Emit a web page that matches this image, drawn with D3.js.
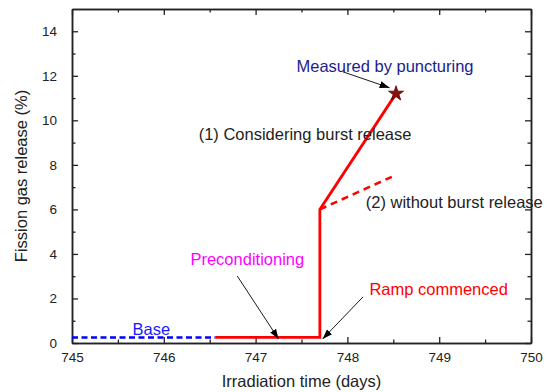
<!DOCTYPE html>
<html>
<head>
<meta charset="utf-8">
<script src="https://cdnjs.cloudflare.com/ajax/libs/d3/7.8.5/d3.min.js"></script>
<style>
  body { margin: 0; background: #fff; }
  svg { display: block; font-family: "Liberation Sans", Arial, sans-serif; }
</style>
</head>
<body>
<div id="svg_container"></div>
<script>
/* -----------------------
data
------------------------- */

var baseX = [745, 746.56],
    baseY = [0.25, 0.25];

var burstX = [746.56, 747.7, 747.7, 748.53],
    burstY = [0.25, 0.25, 6.0, 11.2];

var noBurstX = [747.7, 748.53],
    noBurstY = [6.0, 7.55];

var measuredX = [748.53],
    measuredY = [11.2];

var xTicks = [745, 746, 747, 748, 749, 750],
    yTicks = [0, 2, 4, 6, 8, 10, 12, 14];

// text labels, placed in data units
var labelText = ["Measured by puncturing", "(1) Considering burst release", "(2) without burst release",
                 "Preconditioning", "Ramp commenced", "Base"],
    labelX = [748.41, 746.38, 748.20, 746.29, 748.24, 745.66],
    labelY = [12.15, 9.12, 6.07, 3.51, 2.16, 0.36];

// arrows: from -> to
var arrowFromX = [747.95, 746.80, 748.17],
    arrowFromY = [12.18, 3.01, 2.07],
    arrowToX = [748.46, 747.25, 747.73],
    arrowToY = [11.46, 0.18, 0.18];

/* -----------------------
set plot
------------------------- */

var width = 548, height = 392;
var pLeft = 72, pRight = 531, pTop = 9, pBottom = 343;

var svg = d3.select("#svg_container")
    .append("svg")
    .attr("width", width)
    .attr("height", height);

var x = d3.scaleLinear().domain([745, 750]).range([pLeft, pRight]);
var y = d3.scaleLinear().domain([0, 15]).range([pBottom, pTop]);

var zip = function(a, b) { return a.map(function(v, i) { return [v, b[i]]; }); };

var line = d3.line()
    .x(function(d) { return x(d[0]); })
    .y(function(d) { return y(d[1]); });

/* -----------------------
axes
------------------------- */

var axisColor = "#222";
var minorX = d3.range(745.5, 750, 1),
    minorY = d3.range(1, 15, 2);

function styleAxis(g) {
    g.selectAll("path").attr("stroke", axisColor).attr("stroke-width", 1.5);
    g.selectAll("line").attr("stroke", axisColor).attr("stroke-width", 1.3);
    g.selectAll("text").attr("fill", "#222").attr("font-size", "13.5px")
        .attr("font-family", "'Liberation Sans', Arial, sans-serif");
}

// bottom
svg.append("g")
    .attr("transform", "translate(0," + pBottom + ")")
    .call(d3.axisBottom(x).tickValues(xTicks).tickFormat(d3.format("d"))
        .tickSizeInner(-6).tickSizeOuter(0).tickPadding(9.4))
    .call(styleAxis);
svg.append("g")
    .attr("transform", "translate(0," + pBottom + ")")
    .call(d3.axisBottom(x).tickValues(minorX).tickFormat("").tickSizeInner(-3.5).tickSizeOuter(0))
    .call(styleAxis);

// top
svg.append("g")
    .attr("transform", "translate(0," + pTop + ")")
    .call(d3.axisTop(x).tickValues(xTicks).tickFormat("").tickSizeInner(-6).tickSizeOuter(0))
    .call(styleAxis);
svg.append("g")
    .attr("transform", "translate(0," + pTop + ")")
    .call(d3.axisTop(x).tickValues(minorX).tickFormat("").tickSizeInner(-3.5).tickSizeOuter(0))
    .call(styleAxis);

// left
svg.append("g")
    .attr("transform", "translate(" + pLeft + ",0)")
    .call(d3.axisLeft(y).tickValues(yTicks).tickFormat(d3.format("d"))
        .tickSizeInner(-6).tickSizeOuter(0).tickPadding(15))
    .call(styleAxis);
svg.append("g")
    .attr("transform", "translate(" + pLeft + ",0)")
    .call(d3.axisLeft(y).tickValues(minorY).tickFormat("").tickSizeInner(-3.5).tickSizeOuter(0))
    .call(styleAxis);

// right
svg.append("g")
    .attr("transform", "translate(" + pRight + ",0)")
    .call(d3.axisRight(y).tickValues(yTicks).tickFormat("").tickSizeInner(-6).tickSizeOuter(0))
    .call(styleAxis);
svg.append("g")
    .attr("transform", "translate(" + pRight + ",0)")
    .call(d3.axisRight(y).tickValues(minorY).tickFormat("").tickSizeInner(-3.5).tickSizeOuter(0))
    .call(styleAxis);

// axis titles
svg.append("text")
    .attr("x", (pLeft + pRight) / 2)
    .attr("y", 387)
    .attr("text-anchor", "middle")
    .attr("font-size", "16.5px")
    .attr("fill", "#222")
    .text("Irradiation time (days)");

svg.append("text")
    .attr("transform", "translate(27," + ((pTop + pBottom) / 2) + ") rotate(-90)")
    .attr("text-anchor", "middle")
    .attr("font-size", "16.5px")
    .attr("fill", "#222")
    .text("Fission gas release (%)");

/* -----------------------
lines
------------------------- */

svg.append("path")
    .datum(zip(baseX, baseY))
    .attr("d", line)
    .attr("fill", "none")
    .attr("stroke", "#0000ff")
    .attr("stroke-width", 2.5)
    .attr("stroke-dasharray", "6,3.5");

svg.append("path")
    .datum(zip(noBurstX, noBurstY))
    .attr("d", line)
    .attr("fill", "none")
    .attr("stroke", "#ff0000")
    .attr("stroke-width", 2.5)
    .attr("stroke-dasharray", "7,5");

svg.append("path")
    .datum(zip(burstX, burstY))
    .attr("d", line)
    .attr("fill", "none")
    .attr("stroke", "#ff0000")
    .attr("stroke-width", 2.8)
    .attr("stroke-linejoin", "miter");

svg.selectAll(".star")
    .data(zip(measuredX, measuredY))
    .enter().append("path")
    .attr("class", "star")
    .attr("transform", function(d) { return "translate(" + x(d[0]) + "," + y(d[1]) + ")"; })
    .attr("d", d3.symbol().type(d3.symbolStar).size(70))
    .attr("fill", "#8b1010")
    .attr("stroke", "#5a0000")
    .attr("stroke-width", 0.8);

/* -----------------------
arrows + labels
------------------------- */

svg.append("defs").append("marker")
    .attr("id", "arrow")
    .attr("viewBox", "0 0 10 10")
    .attr("refX", 10).attr("refY", 5)
    .attr("markerWidth", 10).attr("markerHeight", 10)
    .attr("markerUnits", "userSpaceOnUse")
    .attr("orient", "auto")
    .append("path")
    .attr("d", "M0,1.5L10,5L0,8.5Z")
    .attr("fill", "#000");

svg.selectAll(".arrow")
    .data(arrowFromX)
    .enter().append("line")
    .attr("class", "arrow")
    .attr("x1", function(d, i) { return x(arrowFromX[i]); })
    .attr("y1", function(d, i) { return y(arrowFromY[i]); })
    .attr("x2", function(d, i) { return x(arrowToX[i]); })
    .attr("y2", function(d, i) { return y(arrowToY[i]); })
    .attr("stroke", "#000")
    .attr("stroke-width", 0.9)
    .attr("marker-end", "url(#arrow)");

var labelColor = ["#1c1c8c", "#222", "#222", "#ff00ff", "#ff0000", "#1a1aff"],
    labelAnchor = ["middle", "start", "start", "start", "start", "start"];

svg.selectAll(".label")
    .data(labelText)
    .enter().append("text")
    .attr("class", "label")
    .attr("x", function(d, i) { return x(labelX[i]); })
    .attr("y", function(d, i) { return y(labelY[i]); })
    .attr("text-anchor", function(d, i) { return labelAnchor[i]; })
    .attr("font-size", "16.5px")
    .attr("fill", function(d, i) { return labelColor[i]; })
    .text(function(d) { return d; });
</script>
</body>
</html>
